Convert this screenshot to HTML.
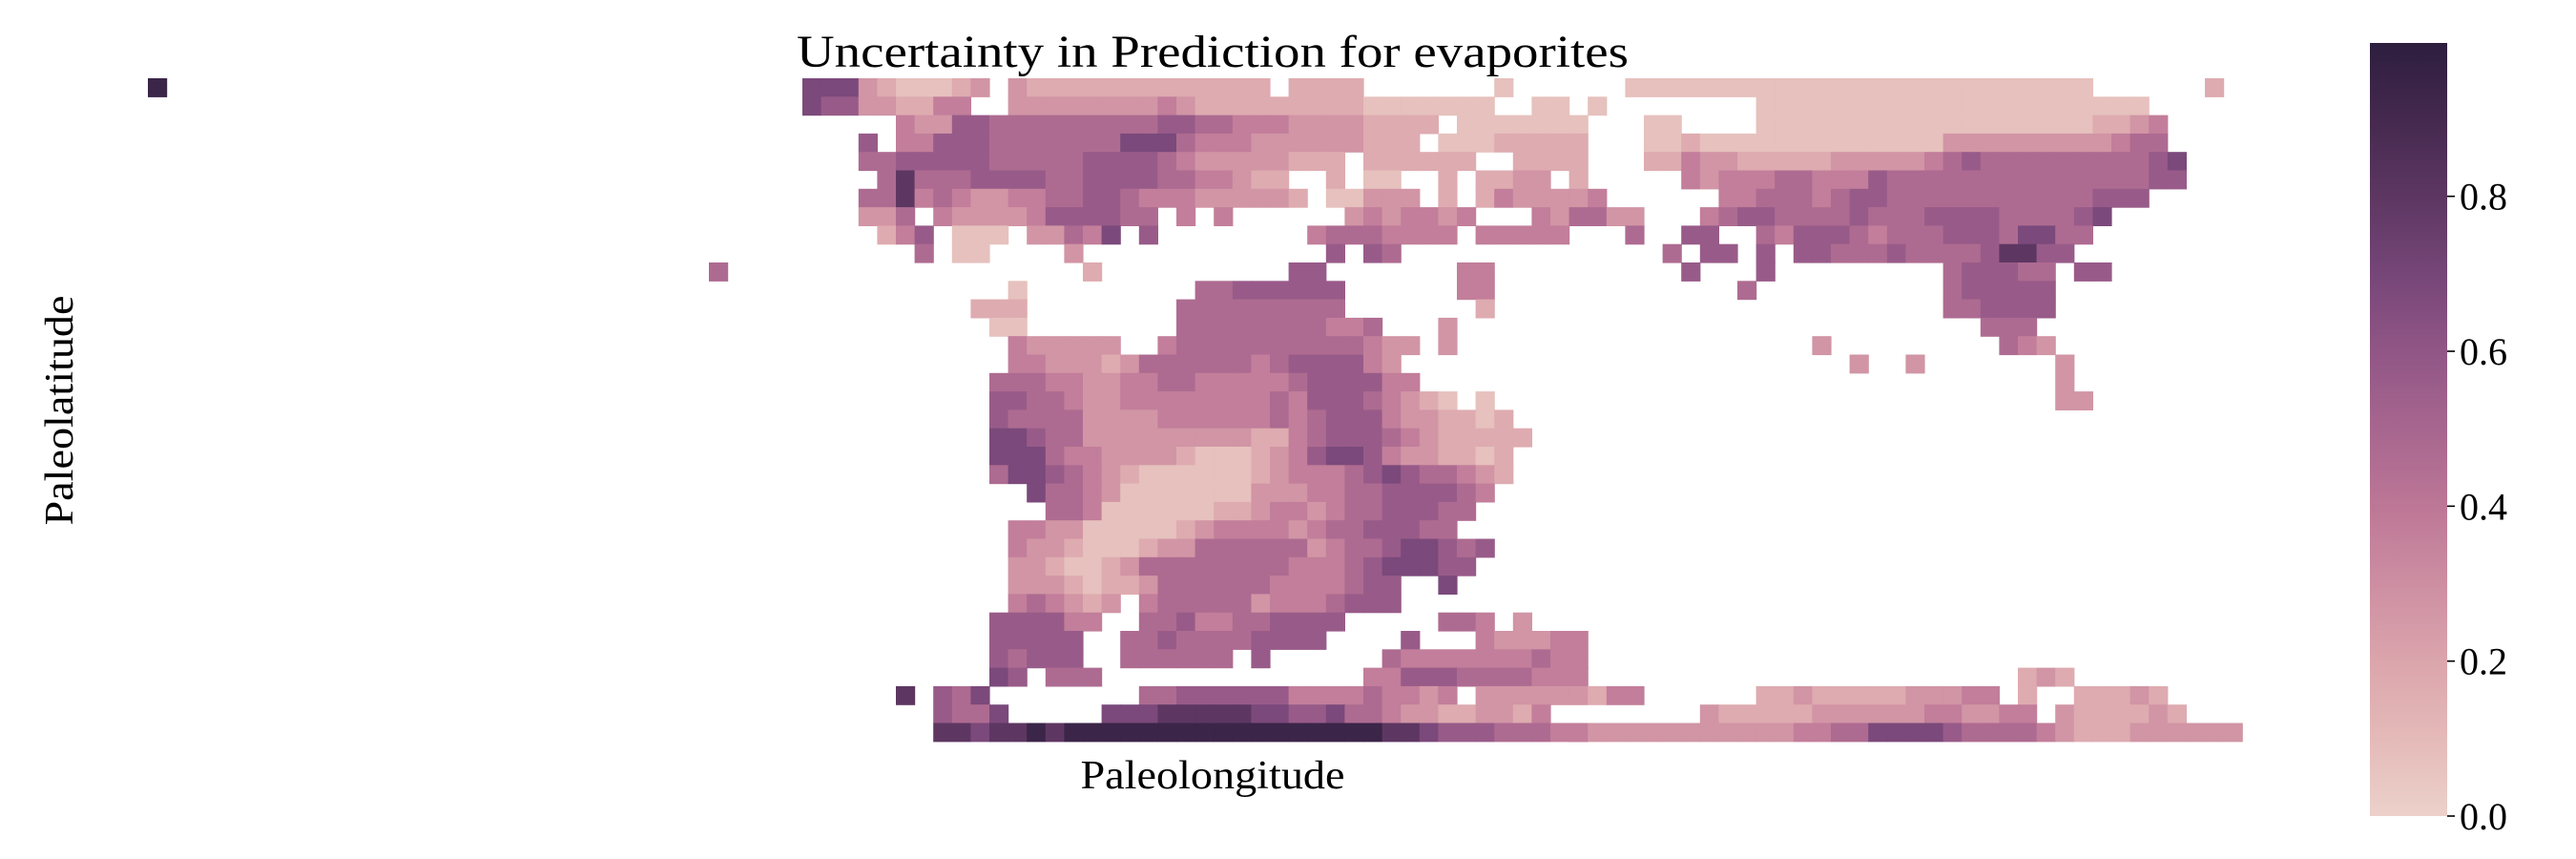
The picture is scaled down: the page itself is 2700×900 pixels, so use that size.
<!DOCTYPE html>
<html><head><meta charset="utf-8"><style>
html,body{margin:0;padding:0;background:#fff;}
svg{display:block;font-family:"Liberation Serif","DejaVu Serif",serif;}
</style></head><body>
<svg id="chart" width="2700" height="900" viewBox="0 0 2700 900" xmlns="http://www.w3.org/2000/svg">
<defs><linearGradient id="cbgrad" x1="0" y1="1" x2="0" y2="0">
<stop offset="0" stop-color="#ecd1ca"/><stop offset="0.1" stop-color="#e4bab8"/><stop offset="0.2" stop-color="#dba5ac"/><stop offset="0.3" stop-color="#cd8ea2"/><stop offset="0.4" stop-color="#bd7796"/><stop offset="0.5" stop-color="#a7668f"/><stop offset="0.6" stop-color="#915686"/><stop offset="0.7" stop-color="#764678"/><stop offset="0.8" stop-color="#5d3762"/><stop offset="0.9" stop-color="#45294f"/><stop offset="1" stop-color="#2d1e3e"/></linearGradient></defs>
<text x="1271" y="70" font-size="48" text-anchor="middle" textLength="872" lengthAdjust="spacingAndGlyphs" fill="#000">Uncertainty in Prediction for evaporites</text>
<text x="1271" y="826" font-size="42" text-anchor="middle" textLength="277" lengthAdjust="spacingAndGlyphs" fill="#000">Paleolongitude</text>
<text x="0" y="0" font-size="42" text-anchor="middle" textLength="241" lengthAdjust="spacingAndGlyphs" fill="#000" transform="translate(76,430) rotate(-90)">Paleolatitude</text>
<g id="cells"></g>
<rect x="2484" y="45" width="81" height="810" fill="url(#cbgrad)"/>
<g id="cbticks"></g>
</svg>
<script>
// Heatmap data: [row, startCol, levels] ; level digit d => uncertainty about d/10, '.' = no data
const segments = [
[0,0,"9"],
[0,35,"7773211123.32222222222222.2222.......1"],
[0,73,"......1111111111111111111111111......2"],
[1,35,"766332244..33333333432222222221111111."],
[1,73,".11.1........111111111111111111111"],
[2,35,".....43366555555555665544433332222.111"],
[2,73,"1111...11....1111111111111111112234"],
[3,35,"...6.4466655555557775444333333222.1112"],
[3,73,"2222...1121111111111111333333333455"],
[4,35,"...5566666555556666543333322 2.222222".replace(" ","")],
[4,73,"2222...224332222233333456555555555 67".replace(" ","")],
[5,35,"....58555666655666655443 22..2.11..2.22".replace(" ","")],
[5,73,"33.2.....4344455444655555555555555 66".replace(" ","")],
[6,35,"...558454334455665444333332.11333.2.24"],
[6,73,"33334......44555456655555555555666"],
[7,35,"...335.43333466665 5.4.4......34344 34.".replace(/ /g,"")],
[7,73,".43553 3...456655556555666655556 7".replace(/ /g,"")],
[8,35,"....246.111.33547.6........45554444.44"],
[8,73,"444...5..66..546665455566657755"],
[9,35,"......5.11....3.............6.65"],
[9,73,"........5.66.6.66555655556886 6".replace(" ","")],
[10,30,"5"],[10,50,"2"],[10,61,"66"],[10,70,"44"],[10,82,"6"],[10,86,"6"],[10,96,"566655.66"],
[11,46,"1"],[11,56,"55666666"],[11,70,"44"],[11,85,"5"],[11,96,"566666"],
[12,44,"222"],[12,55,"555555555"],[12,71,"2"],[12,96,"556666"],
[13,45,"11"],[13,55,"55555555445"],[13,69,"3"],[13,98,"555"],
[14,46,"433333..4555555555543 3.3".replace(" ","")],[14,89,"3"],[14,99,"543"],
[15,45,".443332355555545666643"],[15,91,"3"],[15,94,"3"],[15,102,"3"],
[16,45,"55544334455444445666644"],[16,102,"3"],
[17,45,"6655433444444445466654321.1"],[17,102,"33"],
[18,45,"6555533334444445456664332212"],
[19,45,"776553333333332245666543 22222".replace(" ","")],
[20,45,"7775443333211123467764332212"],
[21,45,"5776543211111123444567655432"],
[22,45,"..7554311111113334455666654"],
[23,45,"...55411111122344345566655"],
[24,45,".443311111234444345566655"],
[25,45,".43321112335555553455677656"],
[26,45,".33211235555555544456777 66".replace(" ","")],
[27,45,".333212235555554444566..7"],
[28,45,".454323.45555534445666"],
[29,45,"666644..5564455666 6.....554.3".replace(" ","")],
[30,45,"66666..55655556666....6...433344"],
[31,45,"65666..555555.6......54444444544"],
[32,45,"76.555..............44666555544 4".replace(" ","")],
[32,100,"232"],
[33,40,"8.657"],
[33,53,"556666664444544 34.333333".replace(" ","")],
[33,77,"244......223222223334 4.2..22232".replace(" ","")],
[34,42,"6557"],
[34,51,"7778888877667554332233 24".replace(" ","")],
[34,83,"3222223333334433 44.322223 2".replace(/ /g,"")],
[35,42,"887"],
[35,45,"8898999999999999999998876665 5544".replace(" ","")],
[35,76,"43333333333344557777655554 3222333333".replace(" ","")]
];
const levelValues = [0.02,0.07,0.17,0.27,0.37,0.47,0.57,0.68,0.8,0.94];
const colorStops = ["#ecd1ca","#e4bab8","#dba5ac","#cd8ea2","#bd7796","#a7668f","#915686","#764678","#5d3762","#45294f","#2d1e3e"];
const cbTickValues = [0.0,0.2,0.4,0.6,0.8];
const cbTickLabels = ["0.0","0.2","0.4","0.6","0.8"];

const NS="http://www.w3.org/2000/svg";
const X0=155, CW=19.6, Y0=82, CH=19.3;
function xOf(col){return X0+col*CW;}
function yOf(row){return Y0+row*CH;}
function hex(c){return [parseInt(c.slice(1,3),16),parseInt(c.slice(3,5),16),parseInt(c.slice(5,7),16)];}
function cmap(v){
  v=Math.max(0,Math.min(1,v));
  const p=v*10, i=Math.min(9,Math.floor(p)), t=p-i;
  const a=hex(colorStops[i]), b=hex(colorStops[i+1]);
  return "rgb("+a.map((x,k)=>Math.round(x+(b[k]-x)*t)).join(",")+")";
}
const g=document.getElementById("cells");
segments.forEach(function(seg){
  const row=seg[0], c0=seg[1], s=seg[2];
  for(let k=0;k<s.length;k++){
    const ch=s[k];
    if(ch<"0"||ch>"9") continue;
    const v=levelValues[parseInt(ch,10)];
    const r=document.createElementNS(NS,"rect");
    
    
    r.setAttribute("x",xOf(c0+k).toFixed(2));
    r.setAttribute("y",yOf(row).toFixed(2));
    r.setAttribute("width",(CW+0.6).toFixed(2));
    r.setAttribute("height",(CH+0.6).toFixed(2));
    r.setAttribute("fill",cmap(v));
    g.appendChild(r);
  }
});
const CB_TOP=45, CB_BOT=855, CB_MAX=0.998;
function cbY(v){return CB_BOT-(v/CB_MAX)*(CB_BOT-CB_TOP);}
const tg=document.getElementById("cbticks");
cbTickValues.forEach(function(v,i){
  const y=cbY(v);
  const l=document.createElementNS(NS,"line");
  
  
  l.setAttribute("x1",2565);l.setAttribute("x2",2573);
  l.setAttribute("y1",y);l.setAttribute("y2",y);
  l.setAttribute("stroke","#000");l.setAttribute("stroke-width","1.6");
  tg.appendChild(l);
  const t=document.createElementNS(NS,"text");
  
  
  t.setAttribute("x",2578);t.setAttribute("y",y+14);
  t.setAttribute("font-size","40");t.setAttribute("fill","#000");
  t.textContent=cbTickLabels[i];
  tg.appendChild(t);
});
</script>
</body></html>
